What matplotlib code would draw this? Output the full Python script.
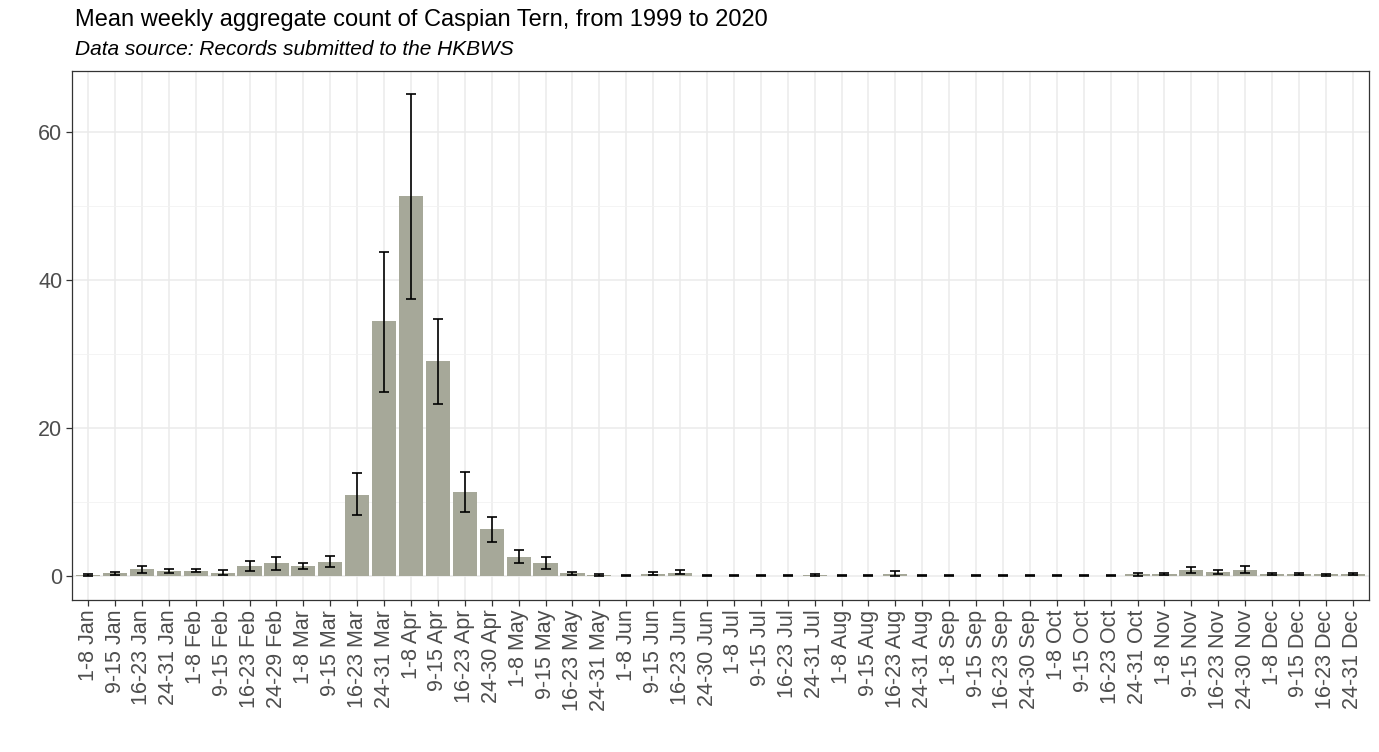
import numpy as np
import matplotlib.pyplot as plt

plt.rcParams['font.family'] = ['Liberation Sans', 'DejaVu Sans']

months = ["Jan", "Feb", "Mar", "Apr", "May", "Jun",
          "Jul", "Aug", "Sep", "Oct", "Nov", "Dec"]
periods = {
    "Jan": ["1-8", "9-15", "16-23", "24-31"],
    "Feb": ["1-8", "9-15", "16-23", "24-29"],
    "Mar": ["1-8", "9-15", "16-23", "24-31"],
    "Apr": ["1-8", "9-15", "16-23", "24-30"],
    "May": ["1-8", "9-15", "16-23", "24-31"],
    "Jun": ["1-8", "9-15", "16-23", "24-30"],
    "Jul": ["1-8", "9-15", "16-23", "24-31"],
    "Aug": ["1-8", "9-15", "16-23", "24-31"],
    "Sep": ["1-8", "9-15", "16-23", "24-30"],
    "Oct": ["1-8", "9-15", "16-23", "24-31"],
    "Nov": ["1-8", "9-15", "16-23", "24-30"],
    "Dec": ["1-8", "9-15", "16-23", "24-31"],
}
weeks = [p + " " + m for m in months for p in periods[m]]

# mean count per week
mean = [0.15, 0.35, 0.9, 0.7,
        0.7, 0.45, 1.4, 1.7,
        1.35, 1.95, 11.0, 34.4,
        51.3, 29.0, 11.3, 6.3,
        2.6, 1.8, 0.36, 0.18,
        0.05, 0.3, 0.45, 0.03,
        0.03, 0.03, 0.03, 0.1,
        0.03, 0.03, 0.32, 0.03,
        0.03, 0.03, 0.03, 0.03,
        0.03, 0.03, 0.03, 0.2,
        0.25, 0.86, 0.6, 0.86,
        0.25, 0.25, 0.2, 0.25]
# error bar limits
lower = [0.05, 0.15, 0.45, 0.45,
         0.5, 0.1, 0.7, 0.8,
         1.0, 1.2, 8.3, 24.9,
         37.4, 23.2, 8.6, 4.6,
         1.8, 1.0, 0.1, 0.05,
         0.0, 0.1, 0.2, 0.0,
         0.0, 0.0, 0.0, 0.0,
         0.0, 0.0, 0.05, 0.0,
         0.0, 0.0, 0.0, 0.0,
         0.0, 0.0, 0.0, 0.05,
         0.1, 0.45, 0.3, 0.4,
         0.1, 0.1, 0.05, 0.1]
upper = [0.3, 0.6, 1.35, 1.0,
         0.9, 0.86, 2.0, 2.6,
         1.7, 2.7, 13.9, 43.8,
         65.2, 34.7, 14.1, 8.0,
         3.5, 2.6, 0.6, 0.3,
         0.12, 0.5, 0.75, 0.08,
         0.08, 0.08, 0.08, 0.22,
         0.08, 0.08, 0.65, 0.08,
         0.08, 0.08, 0.08, 0.08,
         0.08, 0.08, 0.08, 0.35,
         0.4, 1.27, 0.86, 1.4,
         0.4, 0.4, 0.32, 0.4]

mean = np.array(mean)
yerr = [mean - np.array(lower), np.array(upper) - mean]
x = np.arange(len(weeks))

fig = plt.figure(figsize=(13.79, 7.52), dpi=100)
ax = fig.add_axes([0.0522, 0.2021, 0.9405, 0.7035])

ax.bar(x, mean, width=0.9, color="#A6A899", zorder=2)
ax.errorbar(x, mean, yerr=yerr, fmt="none", ecolor="black",
            elinewidth=1.2, capsize=3.8, capthick=1.2, zorder=3)

ax.set_xlim(-0.6, len(weeks) - 0.4)
ax.set_ylim(-3.25, 68.25)
ax.set_yticks([0, 20, 40, 60])
ax.set_yticks([10, 30, 50], minor=True)
ax.set_xticks(x)
ax.set_xticklabels(weeks, rotation=90)

ax.grid(True, which="major", color="#EBEBEB", linewidth=1.1, zorder=0)
ax.grid(True, which="minor", axis="y", color="#F2F2F2", linewidth=0.6, zorder=0)
ax.set_axisbelow(True)
ax.tick_params(axis="both", which="major", labelsize=15.5, labelcolor="#4D4D4D",
               color="#333333", length=4, width=0.9, pad=3)
ax.tick_params(axis="y", which="minor", length=0)
for s in ax.spines.values():
    s.set_color("#333333")
    s.set_linewidth(0.9)

fig.text(0.0545, 0.973, "Mean weekly aggregate count of Caspian Tern, from 1999 to 2020",
         fontsize=17, va="center", ha="left")
fig.text(0.0545, 0.934, "Data source: Records submitted to the HKBWS",
         fontsize=15, style="italic", va="center", ha="left")

fig.savefig("out.png", dpi=100)
